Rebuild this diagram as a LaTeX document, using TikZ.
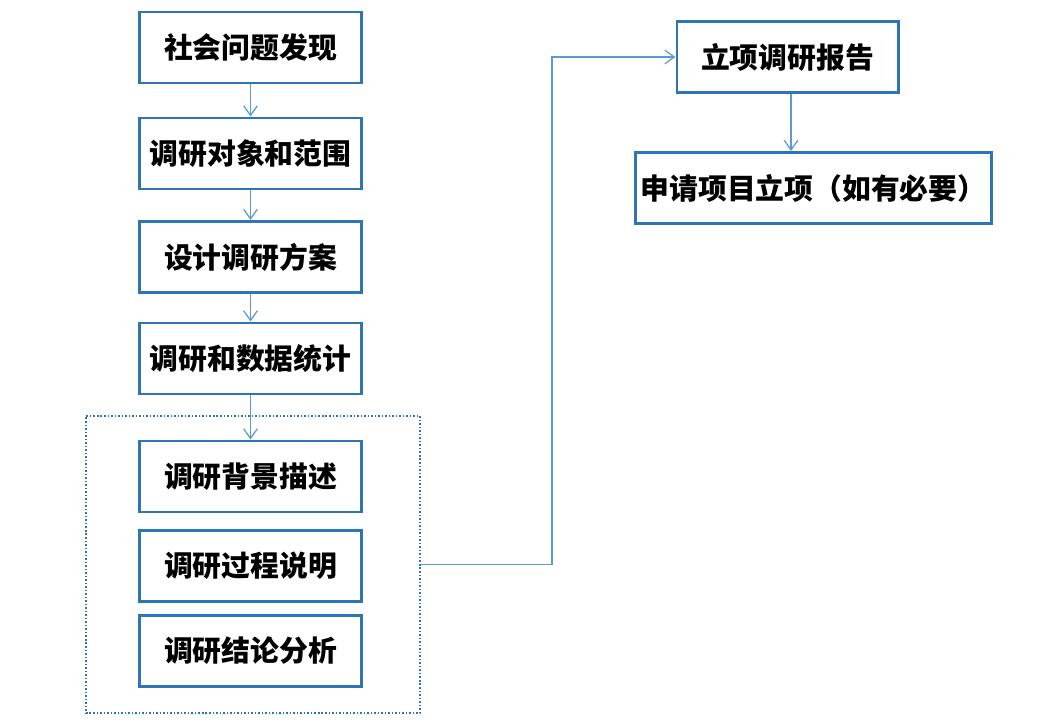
\documentclass[tikz,border=0pt]{standalone}
\usepackage{fontspec}
\newfontfamily\cjk{Noto Sans CJK SC}
\usepackage{xcolor}
\usetikzlibrary{arrows.meta, positioning}
\definecolor{boxblue}{HTML}{2E75B6}
\definecolor{lineblue}{HTML}{5B9BD5}

\begin{document}
\begin{tikzpicture}[
  x=0.025cm, y=-0.025cm,
  stage/.style={rectangle, draw=boxblue, line width=2.1pt, fill=white,
    minimum width=5.525cm, minimum height=1.775cm, inner sep=0pt,
    font=\cjk\bfseries\fontsize{20.5}{24}\selectfont},
  wide/.style={stage, minimum width=8.875cm},
  group/.style={rectangle, draw=boxblue, line width=1.1pt,
    dash pattern=on 1.1pt off 1.4pt, minimum width=8.35cm,
    minimum height=7.425cm, inner sep=0pt},
  edge/.style={-{Straight Barb[length=2.4mm, width=3.4mm]}, draw=lineblue, line width=0.9pt}
]
\useasboundingbox (0,0) rectangle (1045,723);

% left column
\node[group] (report) at (253,564.5) {};
\node[stage] (find) at (250.5,47.5) {社会问题发现};
\node[stage] (scope) at (250.5,153.5) {调研对象和范围};
\node[stage] (plan) at (250.5,257) {设计调研方案};
\node[stage] (data) at (250.5,358.5) {调研和数据统计};
\node[stage] (bg) at (250.5,476.5) {调研背景描述};
\node[stage] (proc) at (250.5,566) {调研过程说明};
\node[stage] (concl) at (250.5,651) {调研结论分析};

% right column
\node[stage] (proj) at (787.5,57) {立项调研报告};
\node[wide] (apply) at (813.5,188) {申请项目立项（如有必要）};

\coordinate (corner) at (552,300);

\draw[edge] (find) -- (scope);
\draw[edge] (scope) -- (plan);
\draw[edge] (plan) -- (data);
\draw[edge] (data) -- (bg);
\draw[edge] (report.east) -- (report.east -| corner) |- (proj.west);
\draw[edge] (proj.south -| 791,0) -- (apply.north -| 791,0);
\end{tikzpicture}
\end{document}
